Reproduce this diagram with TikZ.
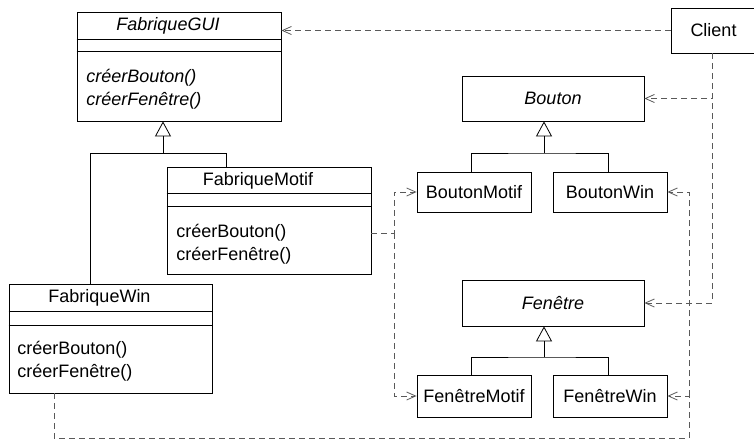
\documentclass[tikz,border=0pt]{standalone}
\usepackage{fontspec}
\setmainfont{Liberation Sans}
\usetikzlibrary{arrows.meta}

\begin{document}
\begin{tikzpicture}[x=1pt,y=-1pt,line width=0.8pt,
		every node/.style={font=\fontsize{18}{21}\selectfont},
		classe/.style={draw,inner sep=0pt},
		titre/.style={anchor=base,inner sep=0pt},
		oper/.style={anchor=base west,inner sep=0pt},
		herite/.style={-{Triangle[open,length=15pt,width=16pt]}},
		depend/.style={black!65,dash pattern=on 6pt off 4pt,-{Straight Barb[length=9pt,width=8pt]}}]
		\useasboundingbox (0,0) rectangle (754,439);
		\node[classe,minimum width=204,minimum height=109] (gui) at (179,66.5) {};
		\node[classe,minimum width=204,minimum height=107] (motif) at (269,220.5) {};
		\node[classe,minimum width=203,minimum height=109] (win) at (110.5,338.5) {};
		\foreach \n/\a/\b in {gui/28/40,motif/27/40,win/28/42}{
			\draw ([yshift=-\a]\n.north west) -- ([yshift=-\a]\n.north east);
			\draw ([yshift=-\b]\n.north west) -- ([yshift=-\b]\n.north east);
		}
		\node[titre] (guititre) at (168,30.5) {\textit{FabriqueGUI}};
		\node[oper] (guiop1) at (86,82) {\textit{créerBouton()}};
		\node[oper] (guiop2) at (86,105) {\textit{créerFenêtre()}};
		\node[titre] (motiftitre) at (258,185.5) {FabriqueMotif};
		\node[oper] (motifop1) at (176,237) {créerBouton()};
		\node[oper] (motifop2) at (176,260) {créerFenêtre()};
		\node[titre] (wintitre) at (99.5,302.5) {FabriqueWin};
		\node[oper] (winop1) at (17,354) {créerBouton()};
		\node[oper] (winop2) at (17,377) {créerFenêtre()};
		\node[classe,minimum width=85,minimum height=45] (client) at (713.5,30.5) {Client};
		\node[classe,minimum width=182,minimum height=45] (bouton) at (553,98.5) {\textit{Bouton}};
		\node[classe,minimum width=114,minimum height=40] (bmotif) at (474,192) {BoutonMotif};
		\node[classe,minimum width=114,minimum height=40] (bwin) at (610,192) {BoutonWin};
		\node[classe,minimum width=182,minimum height=46] (fenetre) at (553,303) {\textit{Fenêtre}};
		\node[classe,minimum width=114,minimum height=42] (fmotif) at (474,396) {FenêtreMotif};
		\node[classe,minimum width=114,minimum height=42] (fwin) at (610,396) {FenêtreWin};
		\coordinate (gh) at (163,153);
		\coordinate (bh) at (544,153);
		\coordinate (fh) at (544,357);
		\draw[herite] (gh) -- (gh |- gui.south);
		\draw (gh) -| ([xshift=-20.5]win.north);
		\draw (gh) -| ([xshift=-43]motif.north);
		\draw[herite] (bh) -- (bh |- bouton.south);
		\draw ([xshift=-3]bmotif.north) |- (bh) -| ([xshift=-2]bwin.north);
		\draw[herite] (fh) -- (fh |- fenetre.south);
		\draw ([xshift=-3]fmotif.north) |- (fh) -| ([xshift=-2]fwin.north);
		\draw[depend] (client.west) -- (client.west -| gui.east);
		\draw[depend] ([xshift=-1.5]client.south) |- (bouton.east);
		\draw[depend] ([xshift=-1.5]client.south) |- (fenetre.east);
		\coordinate (mc) at (394,233);
		\draw[depend] (motif.east |- mc) -- (mc) |- (bmotif.west);
		\draw[depend] (mc) |- (fmotif.west);
		\coordinate (wg) at (54,438);
		\coordinate (wd) at (689,438);
		\draw[depend] (wg |- win.south) -- (wg) -- (wd) |- (fwin.east);
		\draw[depend] (fwin.east -| wd) |- (bwin.east);
	\end{tikzpicture}
\end{document}
